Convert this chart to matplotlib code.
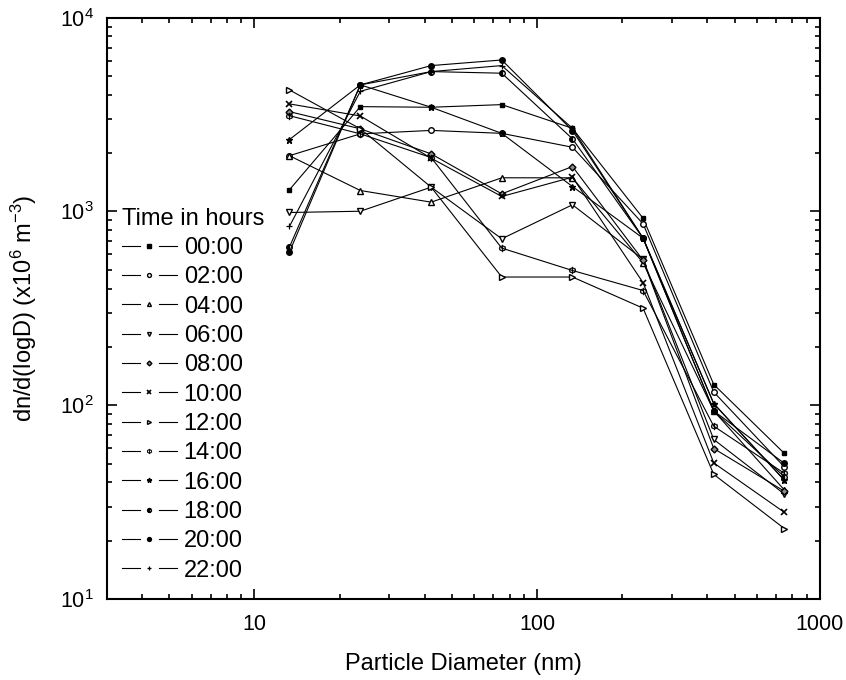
import matplotlib
matplotlib.use("Agg")
import matplotlib.pyplot as plt
from matplotlib.lines import Line2D
from matplotlib.legend_handler import HandlerLine2D
from matplotlib.ticker import LogLocator, FuncFormatter, NullFormatter

plt.rcParams['font.family'] = ['Liberation Sans', 'DejaVu Sans']
plt.rcParams['mathtext.default'] = 'regular'

# diametros dos canais (nm)
diametro = [13.3, 23.7, 42.2, 75.0, 133.4, 237.1, 421.7, 750.0]

horas = ["00:00", "02:00", "04:00", "06:00", "08:00", "10:00",
         "12:00", "14:00", "16:00", "18:00", "20:00", "22:00"]

h00 = [1294, 3475, 3450, 3560, 2686, 923, 128, 56.4]
h02 = [1940, 2515, 2620, 2530, 2145, 864, 117, 48]
h04 = [1940, 1283, 1117, 1492, 1492, 544, 93.5, 36.5]
h06 = [988, 1003, 1335, 723, 1083, 566, 66.6, 34.8]
h08 = [3275, 2670, 1983, 1233, 1706, 560, 59.8, 36]
h10 = [3590, 3110, 1883, 1195, 1503, 429, 50.4, 28]
h12 = [4240, 2670, 1335, 459, 459, 317, 44, 23.1]
h14 = [3120, 2515, 1897, 647, 496, 391, 78, 44.5]
h16 = [2350, 4500, 3450, 2530, 1345, 728, 102, 41]
h18 = [655, 4500, 5270, 5170, 2370, 728, 93.5, 42.7]
h20 = [617, 4500, 5660, 6050, 2615, 728, 93.5, 50.1]
h22 = [837, 4170, 5270, 5660, 2686, 728, 102, 41]

series = [h00, h02, h04, h06, h08, h10, h12, h14, h16, h18, h20, h22]

# estilos dos marcadores
estilos = [
    dict(marker='s', mfc='black', ms=3.5),
    dict(marker='o', mfc='white', ms=4),
    dict(marker='^', mfc='white', ms=4),
    dict(marker='v', mfc='white', ms=4),
    dict(marker='D', mfc='0.55', ms=3.5),
    dict(marker='x', mfc='none', ms=4.5, mew=1.2),
    dict(marker='>', mfc='white', ms=4),
    dict(marker='$\\Phi$', mfc='black', ms=5, mew=0.3),
    dict(marker='*', mfc='black', ms=5),
    dict(marker='o', mfc='black', ms=4, fillstyle='left', mfcalt='white'),
    dict(marker='o', mfc='black', ms=4),
    dict(marker='+', mfc='none', ms=5, mew=0.9),
]


class HandlerGap(HandlerLine2D):
    # linha - marcador - linha, com espaco em volta do marcador
    def create_artists(self, legend, orig, xdescent, ydescent, width, height, fontsize, trans):
        y = height / 2 - ydescent
        x0 = -xdescent
        x1 = x0 + width
        xm = x0 + width / 2
        g = 0.17 * width
        l1 = Line2D([x0, xm - g], [y, y], color='black', lw=0.8)
        l2 = Line2D([xm + g, x1], [y, y], color='black', lw=0.8)
        mk = Line2D([xm], [y])
        mk.update_from(orig)
        mk.set_linestyle('none')
        mk.set_markersize(orig.get_markersize() * legend.markerscale)
        for a in (l1, l2, mk):
            a.set_transform(trans)
        return [l1, l2, mk]


fig = plt.figure(figsize=(8.46, 6.8), dpi=100)
ax = fig.add_axes([0.126, 0.119, 0.843, 0.855])

for valores, nome, est in zip(series, horas, estilos):
    ax.plot(diametro, valores, color='black', lw=0.8, mec='black', label=nome, **est)

ax.set_xscale('log')
ax.set_yscale('log')
ax.set_xlim(3.0, 1000)
ax.set_ylim(10, 1e4)

ax.xaxis.set_major_locator(LogLocator(base=10, numticks=10))
ax.xaxis.set_minor_locator(LogLocator(base=10, subs=range(2, 10), numticks=20))
ax.xaxis.set_major_formatter(FuncFormatter(lambda v, p: f"{v:.0f}"))
ax.xaxis.set_minor_formatter(NullFormatter())
ax.yaxis.set_minor_locator(LogLocator(base=10, subs=range(2, 10), numticks=20))
ax.yaxis.set_minor_formatter(NullFormatter())

ax.tick_params(which='both', direction='in', top=True, right=True, width=1.2, labelsize=15.5)
ax.tick_params(axis='x', which='major', length=7, pad=11)
ax.tick_params(axis='y', which='major', length=7, pad=9)
ax.tick_params(which='minor', length=3.6)
for s in ax.spines.values():
    s.set_linewidth(1.5)

ax.set_xlabel("Particle Diameter (nm)", fontsize=17, labelpad=13)
ax.set_ylabel("dn/d(logD) (x10$^{6}$ m$^{-3}$)", fontsize=17, labelpad=15)

leg = ax.legend(title="Time in hours", loc='upper left',
                bbox_to_anchor=(0.022, 0.673), frameon=False, fontsize=17,
                title_fontsize=17, handlelength=2.3, handletextpad=0.3,
                labelspacing=0.31, borderaxespad=0, borderpad=0,
                markerscale=0.7, handler_map={Line2D: HandlerGap()})
leg._legend_box.align = "left"

fig.savefig("out.png", dpi=100)
